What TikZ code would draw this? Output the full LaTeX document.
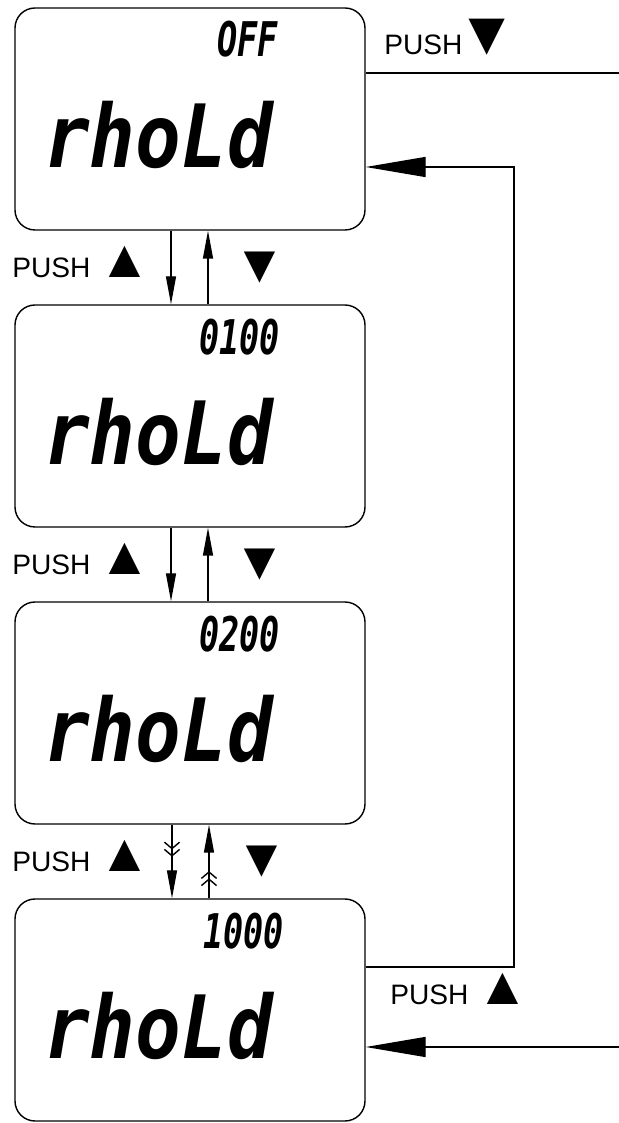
\documentclass[tikz,border=0pt]{standalone}
\usepackage{fontspec}
\setmainfont{Liberation Sans}
\newfontfamily\segfont{DejaVu Sans Mono}[ItalicFont={DejaVu Sans Mono Oblique}, BoldItalicFont={DejaVu Sans Mono Bold Oblique}]
\usetikzlibrary{positioning, arrows.meta, decorations.markings}

\newcommand{\narrowsegs}[1]{\scalebox{.7}[1]{#1}}
\newcommand{\tallsegs}[1]{\scalebox{1}[1.15]{#1}}
\newcommand{\bigtri}[1]{\scalebox{1.9}{#1}}

\begin{document}
\begin{tikzpicture}[
		myline/.style={draw=black, line width=1pt},
		screen/.style={myline, rounded corners=5mm, minimum width=8.75cm, minimum height=5.55cm, inner sep=0pt},
		reading/.style={font=\segfont\bfseries\itshape\fontsize{34}{34}\selectfont, inner sep=0pt, anchor=north east},
		mode/.style={font=\segfont\bfseries\itshape\fontsize{54}{54}\selectfont, inner sep=0pt, anchor=base west},
		push/.style={font=\fontsize{20}{20}\selectfont, inner sep=0pt, anchor=base west},
		big/.style={-{Triangle[length=15mm, width=5mm]}},
		small/.style={-{Triangle[length=7mm, width=2.5mm]}},
		fastdown/.style={postaction={decorate}, decoration={markings,
				mark=at position 0.62cm with {\arrow{Straight Barb[length=1.6mm, width=3.8mm]}},
				mark=at position 0.8cm with {\arrow{Straight Barb[length=1.6mm, width=3.8mm]}}}},
		fastup/.style={postaction={decorate}, decoration={markings,
				mark=at position 0.5cm with {\arrow{Straight Barb[length=1.6mm, width=3.8mm]}},
				mark=at position 0.68cm with {\arrow{Straight Barb[length=1.6mm, width=3.8mm]}}}}]
		
		\useasboundingbox (0,0) rectangle (15.475,28.075);
		
		\node[screen] at (4.75,25.1)   (dispOff)  {};
		\node[screen] at (4.75,17.675) (disp100)  {};
		\node[screen] at (4.75,10.25)  (disp200)  {};
		\node[screen] at (4.75,2.825)  (disp1000) {};
		
		\node[reading] at (6.95,27.55) (valOff)  {\narrowsegs{OFF}};
		\node[reading] at (7.0,20.1)   (val100)  {\narrowsegs{0100}};
		\node[reading] at (7.0,12.675) (val200)  {\narrowsegs{0200}};
		\node[reading] at (7.1,5.25)   (val1000) {\narrowsegs{1000}};
		
		\node[mode] at (1.1,23.875) (modeOff)  {\tallsegs{rhoLd}};
		\node[mode] at (1.1,16.45)  (mode100)  {\tallsegs{rhoLd}};
		\node[mode] at (1.1,9.025)  (mode200)  {\tallsegs{rhoLd}};
		\node[mode] at (1.1,1.6)    (mode1000) {\tallsegs{rhoLd}};
		
		\node[push] at (0.3,21.125) (up1) {PUSH \bigtri{▲}};
		\node[push] at (0.3,13.70)  (up2) {PUSH \bigtri{▲}};
		\node[push] at (0.3,6.275)  (up3) {PUSH \bigtri{▲}};
		\node[push, anchor=base] at (6.5,21.0)  (dn1) {\bigtri{▼}};
		\node[push, anchor=base] at (6.5,13.575) (dn2) {\bigtri{▼}};
		\node[push, anchor=base] at (6.55,6.15) (dn3) {\bigtri{▼}};
		
		\node[push] at (9.6,26.7) (pushDn) {PUSH\kern-.2em\scalebox{2.2}{▼}};
		\node[push] at (9.75,2.95) (pushUp) {PUSH \bigtri{▲}};
		
		\coordinate (outTop) at (15.475,26.25);
		\coordinate (turn)   at (12.85,3.9);
		\coordinate (backIn) at (12.85,23.9);
		\coordinate (inBot)  at (15.475,1.9);
		
		\draw[myline, small] ([xshift=-4.75mm]dispOff.south) -- ([xshift=-4.75mm]disp100.north);
		\draw[myline, small] ([xshift=4.5mm]disp100.north) -- ([xshift=4.5mm]dispOff.south);
		\draw[myline, small] ([xshift=-4.75mm]disp100.south) -- ([xshift=-4.75mm]disp200.north);
		\draw[myline, small] ([xshift=4.5mm]disp200.north) -- ([xshift=4.5mm]disp100.south);
		\draw[myline, small, fastdown] ([xshift=-4.5mm]disp200.south) -- ([xshift=-4.5mm]disp1000.north);
		\draw[myline, small, fastup] ([xshift=4.75mm]disp1000.north) -- ([xshift=4.75mm]disp200.south);
		
		\draw[myline] (dispOff.east |- outTop) -- (outTop);
		\draw[myline, big] (disp1000.east |- turn) -| (backIn) -- (dispOff.east |- backIn);
		\draw[myline, big] (inBot) -- (disp1000.east |- inBot);
	\end{tikzpicture}
\end{document}
